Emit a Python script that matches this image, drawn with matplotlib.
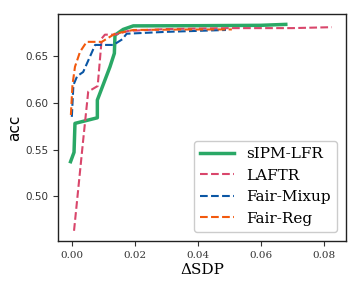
import matplotlib
matplotlib.use("Agg")
import matplotlib.pyplot as plt

sipm_x = [-0.0003, 0.0008, 0.0011, 0.0082, 0.0082, 0.0122, 0.0136, 0.0138, 0.0164, 0.0196, 0.040, 0.060, 0.068]
sipm_y = [0.537, 0.547, 0.578, 0.584, 0.603, 0.6385, 0.653, 0.6725, 0.6786, 0.6824, 0.6826, 0.683, 0.684]

laftr_x = [0.0008, 0.0037, 0.0053, 0.0083, 0.0096, 0.0106, 0.0138, 0.018, 0.030, 0.050, 0.070, 0.0826]
laftr_y = [0.463, 0.560, 0.612, 0.618, 0.669, 0.673, 0.673, 0.677, 0.679, 0.680, 0.680, 0.681]

mixup_x = [0.0001, 0.0006, 0.0018, 0.0037, 0.0075, 0.0133, 0.0161, 0.0175, 0.030, 0.0490]
mixup_y = [0.585, 0.619, 0.6286, 0.633, 0.662, 0.662, 0.668, 0.674, 0.676, 0.678]

reg_x = [-0.0002, 0.0003, 0.0011, 0.0027, 0.0048, 0.0096, 0.0138, 0.0196, 0.035, 0.0509]
reg_y = [0.587, 0.619, 0.6386, 0.6546, 0.6653, 0.6653, 0.674, 0.678, 0.6785, 0.6786]

fig, ax = plt.subplots(figsize=(3.6, 2.88), dpi=100)
ax.plot(sipm_x, sipm_y, color="#2aa866", lw=2.5, label="sIPM-LFR")
ax.plot(laftr_x, laftr_y, color="#d9466b", lw=1.5, ls="--", label="LAFTR")
ax.plot(mixup_x, mixup_y, color="#0a56a4", lw=1.5, ls="--", label="Fair-Mixup")
ax.plot(reg_x, reg_y, color="#f2590d", lw=1.5, ls="--", label="Fair-Reg")

ax.set_xlim(-0.0043, 0.0871)
ax.set_ylim(0.452, 0.695)
ax.set_xticks([0.0, 0.02, 0.04, 0.06, 0.08])
ax.set_yticks([0.50, 0.55, 0.60, 0.65])
ax.set_xticklabels(["0.00", "0.02", "0.04", "0.06", "0.08"], family="DejaVu Serif", fontsize=7.5)
ax.set_yticklabels(["0.50", "0.55", "0.60", "0.65"], fontsize=7.5)
ax.tick_params(colors="#333333", length=3.5)
for s in ax.spines.values():
    s.set_color("#222222")
    s.set_linewidth(1.0)
ax.set_xlabel("ΔSDP", family="DejaVu Serif", fontsize=11, labelpad=2)
ax.set_ylabel("acc", fontsize=11, labelpad=2)
ax.legend(loc="lower right", prop={"family": "DejaVu Serif", "size": 11}, framealpha=1,
          edgecolor="#cccccc", handlelength=2.2, borderaxespad=0.6)

fig.subplots_adjust(left=0.161, right=0.961, top=0.951, bottom=0.163)
fig.savefig("out.png", dpi=100)
